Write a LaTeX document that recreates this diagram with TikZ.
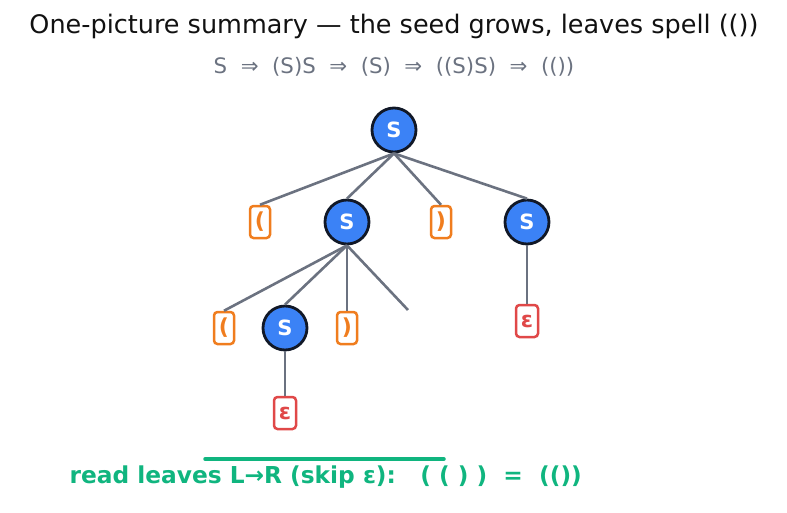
\documentclass[tikz,border=0pt]{standalone}
\usepackage{fontspec}
\setmainfont{DejaVu Sans}
\definecolor{nodeblue}{HTML}{3B82F6}
\definecolor{darkline}{HTML}{111827}
\definecolor{edgegray}{HTML}{6B7280}
\definecolor{parorange}{HTML}{F07D1E}
\definecolor{epsred}{HTML}{E04848}
\definecolor{leafgreen}{HTML}{10B57F}
\definecolor{titlecol}{HTML}{111111}
\tikzset{
  snode/.style={circle, fill=nodeblue, draw=darkline, line width=2.8pt, minimum size=44pt, inner sep=0pt, text=white, font=\bfseries\fontsize{21}{24}\selectfont},
  parbox/.style={rectangle, rounded corners=3.5pt, draw=parorange, fill=white, line width=2.5pt, minimum width=20pt, minimum height=32pt, inner sep=0pt, text=parorange, font=\bfseries\fontsize{22}{24}\selectfont},
  epsbox/.style={rectangle, rounded corners=3.5pt, draw=epsred, fill=white, line width=2.5pt, minimum width=22pt, minimum height=32pt, inner sep=0pt, text=epsred, font=\bfseries\fontsize{22}{24}\selectfont},
  edge/.style={draw=edgegray, line width=2.6pt}
}
\begin{document}
\begin{tikzpicture}[x=1pt,y=-1pt]
\useasboundingbox (0,0) rectangle (787,512);
\node[text=titlecol, font=\fontsize{25.5}{28}\selectfont] (title) at (394,26) {One-picture summary — the seed grows, leaves spell (())};
\node[text=edgegray, font=\fontsize{21.3}{24}\selectfont] (deriv) at (394,67) {S\ \ ⇒\ \ (S)S\ \ ⇒\ \ (S)\ \ ⇒\ \ ((S)S)\ \ ⇒\ \ (())};

\node[snode] (root) at (394,130) {S};
\node[parbox] (lp1) at (260,222) {(};
\node[snode] (s1) at (347,222) {S};
\node[parbox] (rp1) at (441,222) {)};
\node[snode] (s2) at (527,222) {S};

\node[parbox] (lp2) at (224,328) {(};
\node[snode] (s3) at (285,328) {S};
\node[parbox] (rp2) at (347,328) {)};
\coordinate (dang) at (408,310);
\node[epsbox] (e2) at (527,321) {ε};
\node[epsbox] (e1) at (285,413) {ε};

\draw[edge] (root.south) -- (lp1.north);
\draw[edge] (root.south) -- (s1.north);
\draw[edge] (root.south) -- (rp1.north);
\draw[edge] (root.south) -- (s2.north);
\draw[edge] (s1.south) -- (lp2.north);
\draw[edge] (s1.south) -- (s3.north);
\draw[edge] (s1.south) -- (rp2.north);
\draw[edge] (s1.south) -- (dang);
\draw[edge] (s2.south) -- (e2.north);
\draw[edge] (s3.south) -- (e1.north);

\coordinate (gl) at (205,459);
\coordinate (gr) at (444,459);
\draw[leafgreen, line width=3.5pt, line cap=round] (gl) -- (gr);
\node[anchor=west, text=leafgreen, font=\bfseries\fontsize{23.3}{26}\selectfont] (read) at (66,477) {read leaves L→R (skip ε):\ \ \ ( ( ) )\ \ =\ \ (())};
\end{tikzpicture}
\end{document}
